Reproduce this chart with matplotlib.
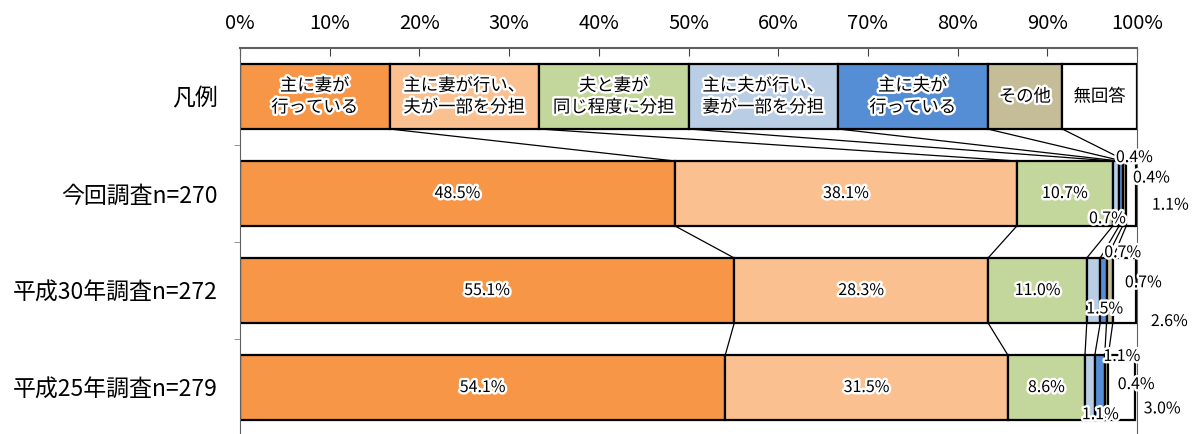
import matplotlib
matplotlib.use("Agg")
import matplotlib.pyplot as plt
import matplotlib.patheffects as pe
import numpy as np

plt.rcParams['font.family'] = ['Noto Sans CJK JP', 'DejaVu Sans']

# rows (top to bottom) and answer categories
rows = ["凡例", "今回調査n=270", "平成30年調査n=272", "平成25年調査n=279"]
cats = ["主に妻が\n行っている", "主に妻が行い、\n夫が一部を分担", "夫と妻が\n同じ程度に分担",
        "主に夫が行い、\n妻が一部を分担", "主に夫が\n行っている", "その他", "無回答"]
colors = ["#F79646", "#FAC090", "#C3D69B", "#B9CDE5", "#558ED5", "#C4BD97", "#FFFFFF"]

legend_w = [100 / 6] * 5 + [100 / 12] * 2
now_vals = [48.5, 38.1, 10.7, 0.7, 0.4, 0.4, 1.1]
h30_vals = [55.1, 28.3, 11.0, 1.5, 0.7, 0.7, 2.6]
h25_vals = [54.1, 31.5, 8.6, 1.1, 1.1, 0.4, 3.0]
data = [legend_w, now_vals, h30_vals, h25_vals]

# small values are labelled off to the side: (row, category, x, y)
small_labels = [
    (1, 4, 99.7, 0.63), (1, 5, 101.6, 0.84), (1, 6, 103.7, 1.12), (1, 3, 96.7, 1.26),
    (2, 4, 98.4, 1.61), (2, 5, 100.7, 1.92), (2, 3, 96.4, 2.19), (2, 6, 103.6, 2.32),
    (3, 4, 98.3, 2.68), (3, 5, 99.9, 2.97), (3, 3, 95.9, 3.28), (3, 6, 102.8, 3.22),
]
small_map = {(r, c): (x, y) for r, c, x, y in small_labels}

glow = [pe.withStroke(linewidth=3.5, foreground="white")]

fig = plt.figure(figsize=(11.94, 4.34), dpi=100)
ax = fig.add_axes([240 / 1194, -2 / 434, 897 / 1194, 388 / 434])

bar_h = 0.67
ypos = np.arange(len(rows))
lefts = []
for i, vals in enumerate(data):
    left = np.concatenate([[0], np.cumsum(vals)[:-1]])
    lefts.append(np.cumsum(vals))
    ax.barh(ypos[i], vals, left=left, height=bar_h, color=colors,
            edgecolor="black", linewidth=1.6, zorder=2)
    for k, v in enumerate(vals):
        cx = left[k] + v / 2
        if i == 0:
            ax.text(cx, ypos[i], cats[k], ha="center", va="center", fontsize=12.5,
                    linespacing=1.25, path_effects=glow, zorder=5)
        elif (i, k) in small_map:
            x, y = small_map[(i, k)]
            ax.text(x, y, f"{v:.1f}%", ha="center", va="center", fontsize=11.5,
                    path_effects=glow, zorder=5, clip_on=False)
        else:
            ax.text(cx, ypos[i], f"{v:.1f}%", ha="center", va="center", fontsize=11.5,
                    path_effects=glow, zorder=5)

# series lines joining segment edges of neighbouring rows
for i in range(len(rows) - 1):
    for k in range(len(cats) - 1):
        ax.plot([lefts[i][k], lefts[i + 1][k]],
                [ypos[i] + bar_h / 2, ypos[i + 1] - bar_h / 2],
                color="black", linewidth=0.9, zorder=1)

ax.set_xlim(0, 100)
ax.set_ylim(3.5, -0.5)
ax.xaxis.tick_top()
ax.set_xticks(np.arange(0, 101, 10))
ax.set_xticklabels([f"{t}%" for t in range(0, 101, 10)], fontsize=14.5)
ax.tick_params(axis="x", direction="in", length=6, pad=10, color="#404040")
ax.set_yticks(ypos)
ax.set_yticklabels(rows, fontsize=16.5)
ax.tick_params(axis="y", length=0, pad=16)
ax.set_yticks([0.5, 1.5, 2.5], minor=True)
ax.tick_params(axis="y", which="minor", length=4, color="#808080")

for side in ["top", "left", "right"]:
    ax.spines[side].set_color("#606060")
ax.spines["top"].set_linewidth(1.5)
ax.spines["bottom"].set_visible(False)

fig.savefig("out.png", dpi=100)
